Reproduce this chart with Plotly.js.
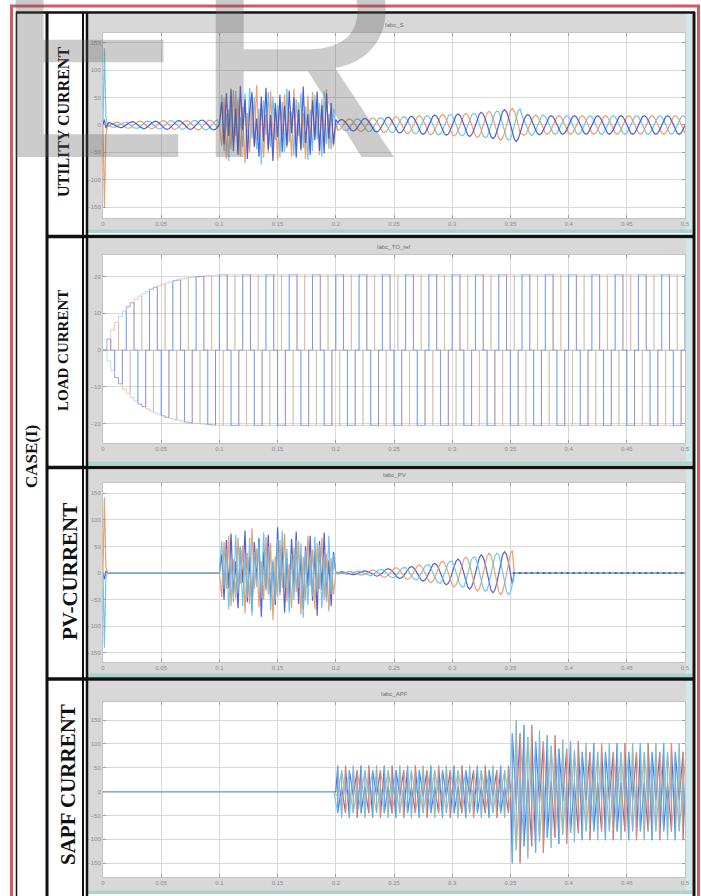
<!DOCTYPE html>
<html>
<head>
<meta charset="utf-8">
<script src="https://cdn.plot.ly/plotly-3.0.1.min.js"></script>
<style>
  html, body { margin: 0; padding: 0; background: #ffffff; }
  #chart { width: 701px; height: 896px; }
</style>
</head>
<body>
<div id="chart"></div>
<script>
// ---------- axes ----------
const xTicks = [0, 0.05, 0.1, 0.15, 0.2, 0.25, 0.3, 0.35, 0.4, 0.45, 0.5];
const xTickText = ['0', '0.05', '0.1', '0.15', '0.2', '0.25', '0.3', '0.35', '0.4', '0.45', '0.5'];
const utilTicks = [-150, -100, -50, 0, 50, 100, 150];
const loadTicks = [-20, -10, 0, 10, 20];
const pvTicks = [-150, -100, -50, 0, 50, 100, 150];
const apfTicks = [-150, -100, -50, 0, 50, 100, 150];
const utilRange = [-170, 168];
const loadRange = [-25.3, 25.9];
const pvRange = [-167, 169];
const apfRange = [-179, 188];

const panelTitles = ['Iabc_S', 'Iabc_TO_ref', 'Iabc_PV', 'Iabc_APF'];
const rowLabels = ['UTILITY CURRENT', 'LOAD CURRENT', 'PV-CURRENT', 'SAPF CURRENT'];
const caseLabel = 'CASE(I)';

// ---------- waveform data ----------
const period = 0.02;      // 50 Hz supply
const halfCycle = 0.01;

// one cycle of each wave shape (fraction of cycle, normalised value)
const sineAngles = [0, 1/12, 2/12, 3/12, 4/12, 5/12, 6/12, 7/12, 8/12, 9/12, 10/12, 11/12];
const unitSine = [0, 0.5, 0.866, 1, 0.866, 0.5, 0, -0.5, -0.866, -1, -0.866, -0.5];
const stepAngles = [0, 1/6, 2/6, 3/6, 4/6, 5/6];
const sixStep = [1, 1, 0, -1, -1, 0];
const apfAngles = [0, 1/12, 1/12, 3/12, 5/12, 5/12, 6/12, 7/12, 7/12, 9/12, 11/12, 11/12];
const apfShape = [0, 1, -0.82, 0.18, -0.82, 1, 0, -1, 0.82, -0.18, 0.82, -1];

// peak value for each half cycle, 0 ... 0.5 s
const utilAmp = [4, 5, 6, 7, 7, 8, 8, 8, 9, 9,
                 0, 0, 0, 0, 0, 0, 0, 0, 0, 0,
                 10, 11, 12, 13, 14, 15, 16, 17, 18, 19,
                 20, 21, 23, 25, 28, 30, 19, 18, 17, 17,
                 17, 17, 17, 17, 17, 17, 17, 17, 17, 17];
const pvAmp = [0, 0, 0, 0, 0, 0, 0, 0, 0, 0,
               0, 0, 0, 0, 0, 0, 0, 0, 0, 0,
               2, 3, 4, 6, 8, 10, 12, 15, 18, 22,
               26, 30, 34, 37, 40, 42, 0, 0, 0, 0,
               0, 0, 0, 0, 0, 0, 0, 0, 0, 0];
const pvTripTime = 0.352;
const apfAmp = [0, 0, 0, 0, 0, 0, 0, 0, 0, 0,
                0, 0, 0, 0, 0, 0, 0, 0, 0, 0,
                55, 55, 55, 55, 55, 55, 55, 55, 55, 55,
                55, 55, 55, 55, 55, 150, 140, 128, 118, 110,
                106, 102, 102, 102, 102, 102, 102, 102, 102, 102];
// load current build-up, one value per 60-degree step (1/300 s) over the first 0.1 s
const loadRamp = [0, 3, 5.5, 7.5, 9.2, 10.6, 11.8, 12.9, 13.9, 14.7,
                  15.4, 16.0, 16.6, 17.1, 17.5, 17.9, 18.3, 18.6, 18.9, 19.1,
                  19.4, 19.6, 19.8, 19.9, 20.0, 20.1, 20.2, 20.3, 20.4, 20.45];
const loadSteady = 20.5;

// switching transient at start-up
const startTimes = [0, 0.0012, 0.0025, 0.004];
const utilStartA = [0, 10, -6, 2];
const utilStartB = [0, -150, -20, 3];
const utilStartC = [0, 140, 15, -2];
const pvStartA = [0, -12, 4, 0];
const pvStartB = [0, 142, 10, 0];
const pvStartC = [0, -140, -8, 0];

// disturbance interval 0.1 ... 0.2 s, sampled every 2 ms
const burstStart = 0.1;
const burstStep = 0.002;
const utilBurstA = [0, 42, -35, 58, -20, 66, -48, 30, -55, 71,
  -10, 47, -62, 25, 60, -40, 12, -58, 52, -30,
  68, -45, 18, -66, 40, -22, 55, -50, 35, -38,
  63, -15, 50, -60, 28, -45, 70, -33, 20, -55,
  45, -28, 61, -47, 36, -52, 58, -25, 40, -35, 10];
const utilBurstB = [0, -38, 50, -62, 28, -45, 64, -20, 48, -57,
  33, -70, 22, -50, 44, -35, 73, -28, 40, -60,
  18, -52, 62, -38, 30, -65, 47, -18, 56, -42,
  25, -58, 66, -30, 42, -48, 22, -62, 54, -36,
  60, -20, 38, -55, 48, -30, 65, -44, 26, -40, 5];
const utilBurstC = [0, 55, -48, 20, -66, 38, -30, 62, -52, 15,
  -40, 58, -35, 68, -25, 50, -45, 30, -72, 45,
  -18, 60, -40, 52, -28, 36, -60, 42, -50, 66,
  -32, 24, -56, 48, -20, 58, -42, 34, -64, 28,
  -48, 55, -26, 40, -58, 62, -35, 20, -45, 30, -8];
const pvBurstA = [0, 35, -50, 62, -28, 74, -40, 22, -66, 48,
  -18, 80, -55, 30, -70, 58, -12, 66, -82, 40,
  -30, 72, -48, 20, -60, 86, -36, 52, -74, 28,
  -45, 64, -22, 78, -58, 34, -68, 50, -26, 70,
  -52, 42, -80, 60, -32, 76, -46, 24, -62, 40, 0];
const pvBurstB = [0, -45, 58, -30, 70, -62, 26, -48, 66, -20,
  52, -76, 38, -58, 84, -30, 46, -64, 22, -50,
  68, -40, 56, -88, 32, -46, 62, -28, 74, -54,
  18, -66, 48, -36, 60, -78, 30, -52, 70, -24,
  44, -68, 56, -30, 66, -50, 36, -72, 28, -40, 0];
const pvBurstC = [0, 60, -30, 45, -68, 22, -55, 72, -38, 50,
  -62, 28, -46, 66, -80, 40, -26, 58, -48, 76,
  -34, 50, -70, 26, -52, 64, -42, 80, -30, 46,
  -74, 36, -50, 62, -28, 56, -84, 42, -60, 30,
  -44, 68, -36, 52, -66, 26, -54, 70, -40, 34, 0];

const phaseColors = ['#3f4fd0', '#f0955a', '#5cc2ee'];
const loadColors = ['#5a6ee0', '#f3a878', '#7fd0f2'];

// ---------- series construction ----------
function halfCycleTable(table) {
  return t => table[Math.min(table.length - 1, Math.max(0, Math.floor(t / halfCycle + 1e-9)))];
}
function loadEnvelope(t) {
  const i = Math.floor(t * 300 + 1e-6);
  if (i < 0) return 0;
  return i < loadRamp.length ? loadRamp[i] : loadSteady;
}
// repeat one cycle shape over the run, phase p shifted by p/3 cycle,
// scaled by the peak envelope
function phaseSamples(angles, shape, ampAt, p, gate) {
  const out = [];
  for (let c = -1; c <= 25; c++) {
    for (let k = 0; k < shape.length; k++) {
      const t = (c + angles[k] + p / 3) * period;
      if (t < -period || t > 0.5 + period) continue;
      let v = ampAt(t) * shape[k];
      if (gate !== undefined && t > gate) v = 0;
      out.push([t, v]);
    }
  }
  return out;
}
// replace the samples inside [times[0], times[last]] by recorded points
function splice(pts, times, vals) {
  const t0 = times[0], t1 = times[times.length - 1];
  const kept = pts.filter(pt => pt[0] < t0 || pt[0] > t1);
  times.forEach((t, i) => kept.push([t, vals[i]]));
  kept.sort((a, b) => a[0] - b[0]);
  return kept;
}
const burstTimes = utilBurstA.map((_, i) => burstStart + i * burstStep);

function toTrace(pts, axis, color, width, opacity, shape) {
  return {
    type: 'scatter', mode: 'lines',
    x: pts.map(p => p[0]), y: pts.map(p => p[1]),
    xaxis: 'x' + (axis === 1 ? '' : axis), yaxis: 'y' + (axis === 1 ? '' : axis),
    line: { color: color, width: width, shape: shape || 'linear' },
    opacity: opacity, hoverinfo: 'skip', showlegend: false
  };
}

const traces = [];
// utility current
const utilStarts = [utilStartA, utilStartB, utilStartC];
const utilBursts = [utilBurstA, utilBurstB, utilBurstC];
[2, 1, 0].forEach(p => {
  let pts = phaseSamples(sineAngles, unitSine, halfCycleTable(utilAmp), p);
  pts = splice(pts, startTimes, utilStarts[p]);
  pts = splice(pts, burstTimes, utilBursts[p]);
  traces.push(toTrace(pts, 1, phaseColors[p], 1.2, 0.9));
});
// load current
[2, 1, 0].forEach(p => {
  const pts = phaseSamples(stepAngles, sixStep, loadEnvelope, p);
  traces.push(toTrace(pts, 2, loadColors[p], 1, p === 0 ? 0.6 : 0.65, 'hv'));
});
// PV current
const pvStarts = [pvStartA, pvStartB, pvStartC];
const pvBursts = [pvBurstA, pvBurstB, pvBurstC];
[0, 1, 2].forEach(p => {
  let pts = phaseSamples(sineAngles, unitSine, halfCycleTable(pvAmp), p, pvTripTime);
  pts = splice(pts, startTimes, pvStarts[p]);
  pts = splice(pts, burstTimes, pvBursts[p]);
  traces.push(toTrace(pts, 3, phaseColors[p], 1.2, 0.9));
});
traces.push({
  type: 'scatter', mode: 'lines', x: [pvTripTime, 0.5], y: [0, 0],
  xaxis: 'x3', yaxis: 'y3', line: { color: '#2e44c4', width: 1.6, dash: '2px,4px' },
  hoverinfo: 'skip', showlegend: false
});
// SAPF current
[0, 1, 2].forEach(p => {
  const pts = phaseSamples(apfAngles, apfShape, halfCycleTable(apfAmp), p);
  traces.push(toTrace(pts, 4, phaseColors[p], 1.1, 0.85));
});

// ---------- layout ----------
const W = 701, H = 896;
const px = x => x / W;
const py = y => 1 - y / H;
const plotRows = [[33, 218], [255, 443], [483, 662], [702, 877]];
const panelRows = [[14, 233], [239, 465], [470, 677], [681, 894]];
const xDom = [px(103), px(685)];

const tickFont = { family: 'Liberation Sans, Arial, sans-serif', size: 6, color: '#8c8c8c' };
function xAxis(i) {
  return {
    domain: xDom, range: [0, 0.5], anchor: 'y' + (i === 1 ? '' : i),
    tickvals: xTicks, ticktext: xTickText, tickfont: tickFont,
    showgrid: true, gridcolor: '#d9d9d9', gridwidth: 1, zeroline: false,
    showline: true, linecolor: '#c4c4c4', linewidth: 1, mirror: 'ticks',
    ticks: 'inside', ticklen: 3, tickcolor: '#a0a0a0', fixedrange: true
  };
}
function yAxis(i, range, ticks) {
  const r = plotRows[i - 1];
  return {
    domain: [py(r[1]), py(r[0])], range: range, anchor: 'x' + (i === 1 ? '' : i),
    tickvals: ticks, tickfont: tickFont,
    showgrid: true, gridcolor: '#d9d9d9', gridwidth: 1, zeroline: false,
    showline: true, linecolor: '#c4c4c4', linewidth: 1, mirror: 'ticks',
    ticks: 'inside', ticklen: 3, tickcolor: '#a0a0a0', fixedrange: true
  };
}

const shapes = [];
function rect(x0, y0, x1, y1, fill, line, lw, layer) {
  shapes.push({ type: 'rect', xref: 'paper', yref: 'paper',
    x0: px(x0), x1: px(x1), y0: py(y1), y1: py(y0),
    fillcolor: fill || 'rgba(0,0,0,0)',
    line: { color: line || 'rgba(0,0,0,0)', width: lw || 0 }, layer: layer || 'below' });
}
function seg(x0, y0, x1, y1, color, lw) {
  shapes.push({ type: 'line', xref: 'paper', yref: 'paper',
    x0: px(x0), x1: px(x1), y0: py(y0), y1: py(y1),
    line: { color: color, width: lw }, layer: 'above' });
}
// grey scope panels with their bevel strips
panelRows.forEach(r => {
  rect(88, r[0], 692, r[1], '#d8d8d8');
  rect(686, r[0], 692, r[1], '#d2e8e8');
  rect(88, r[1] - 3.5, 692, r[1], '#a9d6cc');
});
// white plotting areas
[1, 2, 3, 4].forEach(i => {
  const s = i === 1 ? '' : i;
  shapes.push({ type: 'rect', xref: 'x' + s + ' domain', yref: 'y' + s + ' domain',
    x0: 0, x1: 1, y0: 0, y1: 1, fillcolor: '#ffffff', line: { width: 0 }, layer: 'below' });
});
// frame lines
rect(11.5, 6, 698.5, 930, null, '#d45a5a', 3, 'above');
seg(16, 12.5, 695, 12.5, '#111111', 2.5);
seg(16.5, 12, 16.5, 896, '#111111', 1.5);
seg(47, 12, 47, 896, '#111111', 3);
seg(83, 12, 83, 896, '#111111', 2);
seg(87, 12, 87, 896, '#111111', 2.5);
seg(694, 12, 694, 896, '#111111', 3);
[236.5, 467.5, 679].forEach(y => seg(47, y, 694, y, '#111111', 3.5));

const annotations = [];
// panel headers
const titleY = [25, 247, 475, 694];
panelTitles.forEach((t, i) => annotations.push({
  text: t, xref: 'paper', yref: 'paper', x: px(394), y: py(titleY[i]),
  xanchor: 'center', yanchor: 'middle', showarrow: false,
  font: { family: 'Liberation Sans, Arial, sans-serif', size: 6, color: '#6e6e6e' }
}));
// row labels
const labelPos = [[63, 122, 16], [63, 351, 15], [70, 572, 21], [68, 785, 21]];
rowLabels.forEach((t, i) => annotations.push({
  text: '<b>' + t + '</b>', xref: 'paper', yref: 'paper',
  x: px(labelPos[i][0]), y: py(labelPos[i][1]), xanchor: 'center', yanchor: 'middle',
  textangle: -90, showarrow: false,
  font: { family: 'Liberation Serif, Times New Roman, serif', size: labelPos[i][2], color: '#111111' }
}));
annotations.push({
  text: '<b>' + caseLabel + '</b>', xref: 'paper', yref: 'paper',
  x: px(31), y: py(457), xanchor: 'center', yanchor: 'middle', textangle: -90, showarrow: false,
  font: { family: 'Liberation Serif, Times New Roman, serif', size: 17, color: '#111111' }
});
// watermark
annotations.push({
  text: 'ER', xref: 'paper', yref: 'paper', x: px(-11), y: py(-117),
  xanchor: 'left', yanchor: 'top', showarrow: false,
  font: { family: 'Liberation Sans, Arial, sans-serif', size: 300, color: 'rgba(95,95,95,0.32)' }
});

const layout = {
  width: W, height: H, autosize: false,
  margin: { l: 0, r: 0, t: 0, b: 0, pad: 0 },
  paper_bgcolor: '#ffffff', plot_bgcolor: 'rgba(0,0,0,0)',
  showlegend: false,
  xaxis: xAxis(1), xaxis2: xAxis(2), xaxis3: xAxis(3), xaxis4: xAxis(4),
  yaxis: yAxis(1, utilRange, utilTicks), yaxis2: yAxis(2, loadRange, loadTicks),
  yaxis3: yAxis(3, pvRange, pvTicks), yaxis4: yAxis(4, apfRange, apfTicks),
  shapes: shapes, annotations: annotations
};

Plotly.newPlot('chart', traces, layout, { staticPlot: true, displayModeBar: false });
</script>
</body>
</html>
